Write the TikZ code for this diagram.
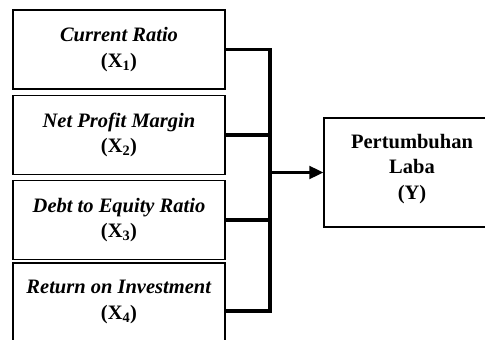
\documentclass[tikz,border=0pt]{standalone}
\usepackage{fontspec}
\setmainfont{Liberation Serif}
\usetikzlibrary{arrows.meta, positioning}

\begin{document}
\begin{tikzpicture}[x=1pt, y=-1pt,
  every node/.style={font=\fontsize{20.5}{25.5}\selectfont\bfseries},
  varbox/.style={draw, line width=1.5pt, minimum width=212pt, minimum height=79pt, align=center, inner sep=0pt},
  link/.style={line width=3.6pt},
  flow/.style={line width=2.4pt, -{Triangle[length=14pt, width=13pt]}}]

% frame of the picture
\useasboundingbox (0,0) rectangle (485,340);
\clip (0,0) rectangle (485,340);

% independent variables
\node[varbox] (x1) at (119,49.5) {\textit{Current Ratio}\\(X\textsubscript{1})};
\node[varbox] (x2) at (119,135) {\textit{Net Profit Margin}\\(X\textsubscript{2})};
\node[varbox] (x3) at (119,220) {\textit{Debt to Equity Ratio}\\(X\textsubscript{3})};
\node[varbox, minimum height=100pt, text depth=26pt] (x4) at (119,313) {\textit{Return on Investment}\\(X\textsubscript{4})};

% dependent variable
\node[varbox, minimum width=176pt, minimum height=109pt, text depth=12pt] (y) at (412,172.5) {Pertumbuhan\\Laba\\(Y)};

% connectors
\coordinate (bartop) at (270,49.5);
\coordinate (barbot) at (270,311);
\draw[link] (x1.east) -- (bartop) -- (barbot) -- (x4.east |- barbot);
\draw[link] (x2.east) -- (bartop |- x2.east);
\draw[link] (x3.east) -- (bartop |- x3.east);
\draw[flow] (bartop |- y.west) -- (y.west);

\end{tikzpicture}
\end{document}
